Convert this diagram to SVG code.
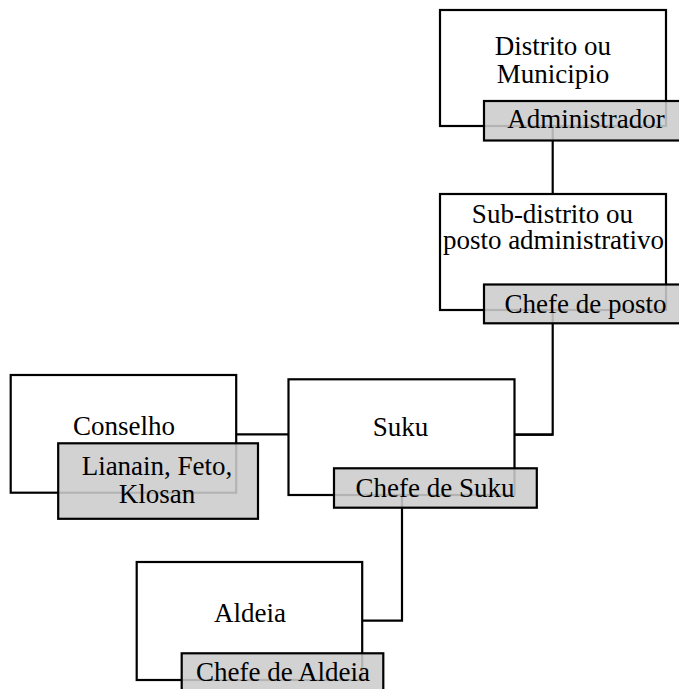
<svg xmlns="http://www.w3.org/2000/svg" width="679" height="689" viewBox="0 0 679 689">
<style>
.box{fill:#ffffff;stroke:#000000;stroke-width:2.2}
.role{fill:#cccccc;fill-opacity:0.88;stroke:#000000;stroke-width:2.2}
.ln{fill:none;stroke:#000000;stroke-width:2.2}
text{font-family:"Liberation Serif","Times New Roman",serif;font-size:27px;fill:#000000;text-anchor:middle}
</style>
<rect x="0" y="0" width="679" height="689" fill="#ffffff"/>
<g id="boxes-white">
<rect id="distrito-box" class="box" x="440" y="10" width="226" height="116"/>
<rect id="subdistrito-box" class="box" x="440" y="194" width="226" height="116"/>
<rect id="conselho-box" class="box" x="10.7" y="375" width="225.5" height="117.7"/>
<rect id="suku-box" class="box" x="288.5" y="379.3" width="226" height="115.7"/>
<rect id="aldeia-box" class="box" x="136.7" y="562" width="225.5" height="118"/>
</g>
<g id="connectors">
<line class="ln" x1="552.7" y1="126" x2="552.7" y2="194"/>
<polyline class="ln" points="552.7,310 552.7,434.7 514.5,434.7"/>
<line class="ln" x1="514.5" y1="434.7" x2="552.7" y2="434.7" stroke-width="3.8"/>
<line class="ln" x1="236.2" y1="434.3" x2="288.5" y2="434.3"/>
<polyline class="ln" points="402,495 402,620.7 362.2,620.7"/>
</g>
<g id="distrito">
<rect class="role" x="484" y="101" width="204" height="39.5"/>
<text x="553" y="55">Distrito ou</text>
<text x="553" y="83">Municipio</text>
<text x="586" y="128">Administrador</text>
</g>
<g id="subdistrito">
<rect class="role" x="484" y="284.5" width="204" height="38.8"/>
<text x="552.5" y="222.5">Sub-distrito ou</text>
<text x="553.5" y="249">posto administrativo</text>
<text x="585.5" y="313">Chefe de posto</text>
</g>
<g id="conselho">
<rect class="role" x="58.2" y="443.3" width="199.8" height="75.5"/>
<text x="124" y="435">Conselho</text>
<text x="157" y="475">Lianain, Feto,</text>
<text x="157" y="503">Klosan</text>
</g>
<g id="suku">
<rect class="role" x="334" y="468.3" width="202.8" height="39.4"/>
<text x="400.5" y="436">Suku</text>
<text x="435" y="497">Chefe de Suku</text>
</g>
<g id="aldeia">
<rect class="role" x="181.7" y="653.3" width="201.6" height="40"/>
<text x="250" y="622">Aldeia</text>
<text x="283" y="681">Chefe de Aldeia</text>
</g>
</svg>
